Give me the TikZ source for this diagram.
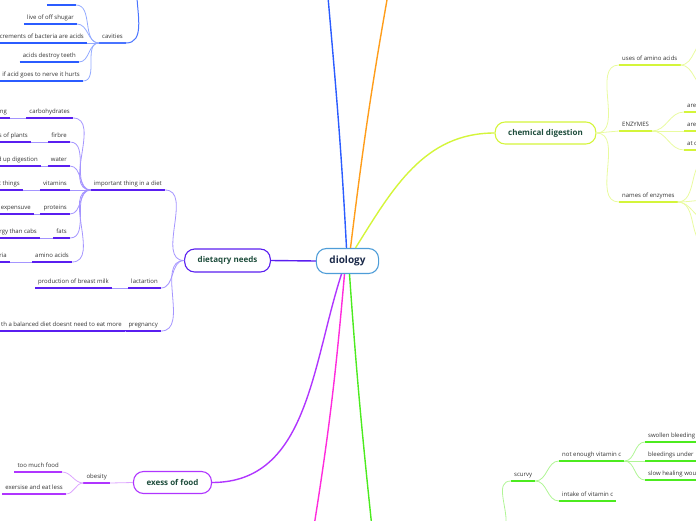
\documentclass[tikz,border=0pt]{standalone}
\usepackage{fontspec}
\setmainfont{Open Sans}
\usetikzlibrary{positioning}
\definecolor{inkgray}{HTML}{333333}
\definecolor{pine}{HTML}{1E4D3C}
\definecolor{navy}{HTML}{1B2A4A}
\definecolor{sky}{HTML}{4E9DD8}
\definecolor{cobalt}{HTML}{2B5CFF}
\definecolor{cobaltmid}{HTML}{4A74FF}
\definecolor{cobaltlt}{HTML}{93AAFF}
\definecolor{amber}{HTML}{FF9D1A}
\definecolor{chartr}{HTML}{D4F53A}
\definecolor{chartrlt}{HTML}{E9FB9F}
\definecolor{indig}{HTML}{5A1EF0}
\definecolor{indiglt}{HTML}{A595FF}
\definecolor{orchd}{HTML}{B035FF}
\definecolor{orchdlt}{HTML}{DDA6FF}
\definecolor{fuchs}{HTML}{FF2BDC}
\definecolor{leaf}{HTML}{4CEB1F}
\definecolor{leaflt}{HTML}{B0F595}

\begin{document}
\begin{tikzpicture}[x=1pt,y=1pt,
  font=\fontsize{6}{7}\selectfont,
  topic/.style={inner xsep=3pt,inner ysep=3.2pt,text depth=1.5pt,text=inkgray,
    append after command={(\tikzlastnode.south west) edge[line width=1.8pt,draw=#1] (\tikzlastnode.south east)}},
  hub/.style={draw,fill=white,rounded corners=10pt,line width=1.1pt,minimum height=22pt,inner xsep=13pt,text=pine,font=\fontsize{8}{9}\selectfont\bfseries},
  lnk/.style={line width=0.8pt},
  trunk/.style={line width=1.4pt}]
  \useasboundingbox (0,0) rectangle (696,-520);
  \clip (0,0) rectangle (696,-520);
  % centre
  \node[hub,draw=sky,text=navy,minimum height=25pt,font=\fontsize{10}{12}\selectfont\bfseries] (dio) at (347.5,-261) {diology};
  \coordinate (blueend) at (328,3);
  \coordinate (orangeend) at (387.5,3);
  \coordinate (pinkend) at (314.5,-523);
  \coordinate (greenend) at (371.5,-523);
  \draw[trunk,cobalt] ([xshift=-1pt]dio.north) to[out=93,in=-85] (blueend);
  \draw[trunk,amber] ([xshift=3pt]dio.north) to[out=83,in=-100] (orangeend);
  \draw[trunk,fuchs] ([xshift=-3pt]dio.south) to[out=-95,in=81] (pinkend);
  \draw[trunk,leaf] ([xshift=2pt]dio.south) to[out=-86,in=96] (greenend);
  % cavities
  \node[topic=cobaltmid,anchor=south east] (cav) at (126,-43) {cavities};
  \node[topic=cobalt,anchor=south east] (bact) at (76,-5) {bacteria};
  \node[topic=cobalt,anchor=south east] (sugar) at (77,-24) {live of off shugar};
  \node[topic=cobalt,anchor=south east] (excr) at (87,-43) {crements of bacteria are acids};
  \node[topic=cobalt,anchor=south east] (teeth) at (79,-62) {acids destroy teeth};
  \node[topic=cobalt,anchor=south east] (nerve) at (83,-81) {if acid goes to nerve it hurts};
  \coordinate (cavup) at (137,3);
  \draw[line width=1pt,cobaltmid] (cav.south east) to[out=0,in=-88] (cavup);
  \draw[lnk,cobaltlt] (cav.south west) to[out=180,in=0] (bact.south east);
  \draw[lnk,cobaltlt] (cav.south west) to[out=180,in=0] (sugar.south east);
  \draw[lnk,cobaltlt] (cav.south west) -- (excr.south east);
  \draw[lnk,cobaltlt] (cav.south west) to[out=180,in=0] (teeth.south east);
  \draw[lnk,cobaltlt] (cav.south west) to[out=180,in=0] (nerve.south east);
  % dietary needs
  \node[hub,draw=indig,minimum height=23pt] (needs) at (227.5,-260.5) {dietaqry needs};
  \node[topic=indig,anchor=south east] (diet) at (165,-190) {important thing in a diet};
  \node[topic=indig,anchor=south east] (lact) at (161,-288) {lactartion};
  \node[topic=indig,anchor=south east] (preg) at (161,-331) {pregnancy};
  \node[topic=indig,anchor=south east] (carb) at (73,-118) {carbohydrates};
  \node[topic=indig,anchor=south east] (fibre) at (70,-142) {firbre};
  \node[topic=indig,anchor=south east] (water) at (70,-166) {water};
  \node[topic=indig,anchor=south east] (vits) at (70,-190) {vitamins};
  \node[topic=indig,anchor=south east] (prot) at (70,-214) {proteins};
  \node[topic=indig,anchor=south east] (fats) at (70,-238) {fats};
  \node[topic=indig,anchor=south east] (amino) at (72,-262) {amino acids};
  \node[topic=indig,anchor=south east] (carbx) at (10,-118) {ng};
  \node[topic=indig,anchor=south east] (fibrex) at (31,-142) {s of plants};
  \node[topic=indig,anchor=south east] (waterx) at (41,-166) {d up digestion};
  \node[topic=indig,anchor=south east] (vitsx) at (23,-190) {t things};
  \node[topic=indig,anchor=south east] (protx) at (34,-214) {expensuve};
  \node[topic=indig,anchor=south east] (fatsx) at (40,-238) {rgy than cabs};
  \node[topic=indig,anchor=south east] (aminox) at (10,-262) {ria};
  \node[topic=indig,anchor=south east] (milk) at (112,-288) {production of breast milk};
  \node[topic=indig,anchor=south east] (more) at (125,-331) {th a balanced diet doesnt need to eat more};
  \draw[trunk,indig] (dio.west) -- (needs.east);
  \draw[lnk,indiglt] (needs.west) to[out=180,in=0] (diet.south east);
  \draw[lnk,indiglt] (needs.west) to[out=180,in=0] (lact.south east);
  \draw[lnk,indiglt] (needs.west) to[out=180,in=0] (preg.south east);
  \draw[lnk,indiglt] (diet.south west) to[out=180,in=0] (carb.south east);
  \draw[lnk,indiglt] (diet.south west) to[out=180,in=0] (fibre.south east);
  \draw[lnk,indiglt] (diet.south west) to[out=180,in=0] (water.south east);
  \draw[lnk,indiglt] (diet.south west) -- (vits.south east);
  \draw[lnk,indiglt] (diet.south west) to[out=180,in=0] (prot.south east);
  \draw[lnk,indiglt] (diet.south west) to[out=180,in=0] (fats.south east);
  \draw[lnk,indiglt] (diet.south west) to[out=180,in=0] (amino.south east);
  \draw[lnk,indiglt] (carb.south west) -- (carbx.south east);
  \draw[lnk,indiglt] (fibre.south west) -- (fibrex.south east);
  \draw[lnk,indiglt] (water.south west) -- (waterx.south east);
  \draw[lnk,indiglt] (vits.south west) -- (vitsx.south east);
  \draw[lnk,indiglt] (prot.south west) -- (protx.south east);
  \draw[lnk,indiglt] (fats.south west) -- (fatsx.south east);
  \draw[lnk,indiglt] (amino.south west) -- (aminox.south east);
  \draw[lnk,indiglt] (lact.south west) -- (milk.south east);
  \draw[lnk,indiglt] (preg.south west) -- (more.south east);
  % excess of food
  \node[hub,draw=orchd] (excess) at (172.5,-482.5) {exess of food};
  \node[topic=orchd,anchor=south east] (obes) at (110,-483) {obesity};
  \node[topic=orchd,anchor=south east] (much) at (62,-472) {too much food};
  \node[topic=orchd,anchor=south east] (less) at (66,-494) {exersise and eat less};
  \draw[trunk,orchd] ([xshift=-6pt]dio.south) to[out=-108,in=0] (excess.east);
  \draw[lnk,orchdlt] (excess.west) -- (obes.south east);
  \draw[lnk,orchdlt] (obes.south west) to[out=180,in=0] (much.south east);
  \draw[lnk,orchdlt] (obes.south west) to[out=180,in=0] (less.south east);
  % chemical digestion
  \node[hub,draw=chartr] (chem) at (545.5,-133) {chemical digestion};
  \node[topic=chartr,anchor=south west] (uses) at (619,-65) {uses of amino acids};
  \node[topic=chartr,anchor=south west] (enz) at (619,-131) {ENZYMES};
  \node[topic=chartr,anchor=south west] (names) at (619,-202) {names of enzymes};
  \node[topic=chartr,anchor=south west] (enza) at (684,-112) {are};
  \node[topic=chartr,anchor=south west] (enzb) at (684,-131) {are};
  \node[topic=chartr,anchor=south west] (enzc) at (684,-150) {at c};
  \coordinate (usesa) at (708,-40);
  \coordinate (usesb) at (708,-88);
  \coordinate (namesa) at (708,-160);
  \coordinate (namesb) at (708,-200);
  \coordinate (namesc) at (708,-220);
  \coordinate (namesd) at (708,-245);
  \draw[trunk,chartr] ([xshift=8pt]dio.north) to[out=58,in=180] (chem.west);
  \draw[lnk,chartrlt] (chem.east) to[out=0,in=180] (uses.south west);
  \draw[lnk,chartrlt] (chem.east) -- (enz.south west);
  \draw[lnk,chartrlt] (chem.east) to[out=0,in=180] (names.south west);
  \draw[lnk,chartrlt] (enz.south east) to[out=0,in=180] (enza.south west);
  \draw[lnk,chartrlt] (enz.south east) -- (enzb.south west);
  \draw[lnk,chartrlt] (enz.south east) to[out=0,in=180] (enzc.south west);
  \draw[lnk,chartrlt] (uses.south east) to[out=0,in=180] (usesa);
  \draw[lnk,chartrlt] (uses.south east) to[out=0,in=180] (usesb);
  \draw[lnk,chartrlt] (names.south east) to[out=0,in=180] (namesa);
  \draw[lnk,chartrlt] (names.south east) to[out=0,in=180] (namesb);
  \draw[lnk,chartrlt] (names.south east) to[out=0,in=180] (namesc);
  \draw[lnk,chartrlt] (names.south east) to[out=0,in=180] (namesd);
  % scurvy
  \node[topic=leaf,anchor=south west] (scurvy) at (511,-481) {scurvy};
  \node[topic=leaf,anchor=south west] (lowc) at (559,-461) {not enough vitamin c};
  \node[topic=leaf,anchor=south west] (intake) at (559,-501) {intake of vitamin c};
  \node[topic=leaf,anchor=south west] (gums) at (645,-442) {swollen bleeding};
  \node[topic=leaf,anchor=south west] (under) at (645,-461) {bleedings under};
  \node[topic=leaf,anchor=south west] (wound) at (645,-480) {slow healing wou};
  \coordinate (scurvydown) at (506,-523);
  \draw[lnk,leaflt] (scurvy.south west) to[out=180,in=86] (scurvydown);
  \draw[lnk,leaflt] (scurvy.south east) to[out=0,in=180] (lowc.south west);
  \draw[lnk,leaflt] (scurvy.south east) to[out=0,in=180] (intake.south west);
  \draw[lnk,leaflt] (lowc.south east) to[out=0,in=180] (gums.south west);
  \draw[lnk,leaflt] (lowc.south east) -- (under.south west);
  \draw[lnk,leaflt] (lowc.south east) to[out=0,in=180] (wound.south west);
\end{tikzpicture}
\end{document}
